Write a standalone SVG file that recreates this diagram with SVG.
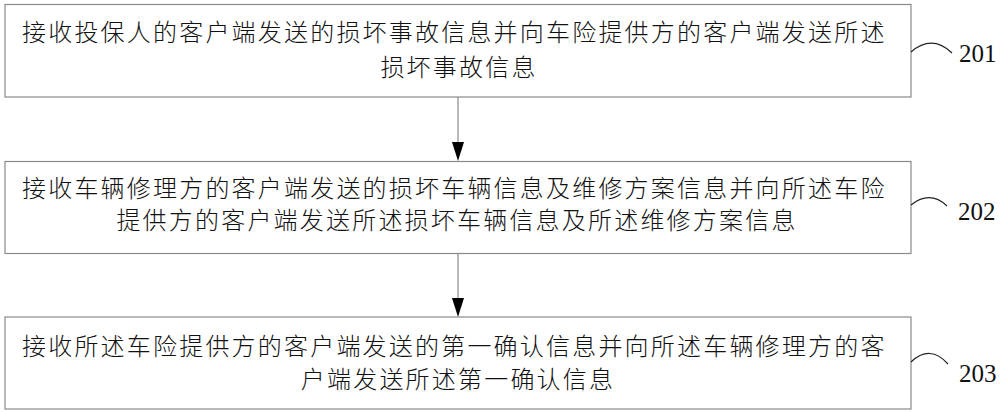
<svg xmlns="http://www.w3.org/2000/svg" width="1000" height="412" viewBox="0 0 1000 412">
<style>
.box{fill:#fff;stroke:#8a8a8a;stroke-width:1.2}
.t{font-family:"Noto Sans CJK SC","Noto Sans CJK JP",sans-serif;font-size:24px;font-weight:300;letter-spacing:2.2px;fill:#111}
.c{text-anchor:middle}
.num{font-family:"Liberation Serif","Times New Roman",serif;font-size:25px;fill:#111}
.lead{fill:none;stroke:#222;stroke-width:1.2}
.conn{stroke:#8a8a8a;stroke-width:1.2;fill:none}
.head{fill:#000}
</style>
<g id="connectors">
<line class="conn" x1="458" y1="97" x2="458" y2="142"/>
<path class="head" d="M452,142 L464,142 L458,161 Z"/>
<line class="conn" x1="458" y1="254" x2="458" y2="298"/>
<path class="head" d="M452,298 L464,298 L458,317 Z"/>
</g>
<g id="node201">
<rect class="box" x="5" y="4.5" width="906" height="92.5"/>
<text class="t" x="22" y="41">接收投保人的客户端发送的损坏事故信息并向车险提供方的客户端发送所述</text>
<text class="t c" x="459" y="76">损坏事故信息</text>
<path class="lead" d="M911,52 Q932,34 952,53"/>
<text class="num" x="959" y="62">201</text>
</g>
<g id="node202">
<rect class="box" x="5" y="161.5" width="906" height="92"/>
<text class="t" x="22" y="197">接收车辆修理方的客户端发送的损坏车辆信息及维修方案信息并向所述车险</text>
<text class="t c" x="457" y="229">提供方的客户端发送所述损坏车辆信息及所述维修方案信息</text>
<path class="lead" d="M911,205 Q930,190 947,206"/>
<text class="num" x="958" y="220">202</text>
</g>
<g id="node203">
<rect class="box" x="5" y="317" width="906" height="92"/>
<text class="t" x="22" y="355">接收所述车险提供方的客户端发送的第一确认信息并向所述车辆修理方的客</text>
<text class="t c" x="458" y="388">户端发送所述第一确认信息</text>
<path class="lead" d="M911,362 Q930,344 948,364"/>
<text class="num" x="959" y="382">203</text>
</g>
</svg>
